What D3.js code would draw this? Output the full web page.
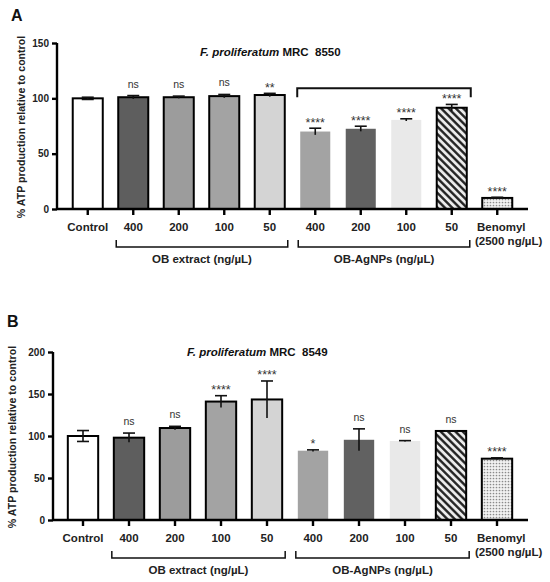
<!DOCTYPE html>
<html>
<head>
<meta charset="utf-8">
<script src="https://cdn.jsdelivr.net/npm/d3@7"></script>
<style>
  body { margin: 0; background: #fff; }
  svg { display: block; font-family: "Liberation Sans", Arial, sans-serif; }
</style>
</head>
<body>
<svg id="chart" width="550" height="582"></svg>
<script>
// bar ids and the label shown under each bar
const barKeys = ['ctrl', 'e400', 'e200', 'e100', 'e50', 'n400', 'n200', 'n100', 'n50', 'ben'];
const barLabels = ['Control', '400', '200', '100', '50', '400', '200', '100', '50', 'Benomyl'];

// panel A : F. proliferatum MRC 8550
const valuesA = [100, 101, 101, 102, 103, 70, 72.5, 80.5, 91.5, 10];
const errorsA = [1, 1.5, 1, 1.5, 1.5, 3, 2.3, 1, 3, 0.6];
const signifA = ['', 'ns', 'ns', 'ns', '**', '****', '****', '****', '****', '****'];
const ticksA = [0, 50, 100, 150];

// panel B : F. proliferatum MRC 8549
const valuesB = [100, 98, 109.5, 141, 143.5, 82.5, 95.5, 94, 106, 73];
const errorsB = [6.5, 5.5, 2, 7, 22, 1, 13, 0.5, 0, 1];
const signifB = ['', 'ns', 'ns', '****', '****', '*', 'ns', 'ns', 'ns', '****'];
const ticksB = [0, 50, 100, 150, 200];

// fill of each bar (outline true = black border)
const barStyles = [
  {fill: '#ffffff', outline: true},
  {fill: '#5e5e5e', outline: true},
  {fill: '#9c9c9c', outline: true},
  {fill: '#a3a3a3', outline: true},
  {fill: '#d4d4d4', outline: true},
  {fill: '#a3a3a3', outline: false},
  {fill: '#616161', outline: false},
  {fill: '#e9e9e9', outline: false},
  {fill: 'url(#hatch)', outline: true},
  {fill: 'url(#dots)', outline: true}
];

const svg = d3.select('#chart');
const defs = svg.append('defs');

let hatch = defs.append('pattern')
  .attr('id', 'hatch')
  .attr('patternUnits', 'userSpaceOnUse')
  .attr('width', 5.2).attr('height', 5.2)
  .attr('patternTransform', 'rotate(-45)');
hatch.append('rect').attr('width', 5.2).attr('height', 5.2).attr('fill', '#ececec');
hatch.append('line')
  .attr('x1', 1.3).attr('x2', 1.3).attr('y1', 0).attr('y2', 5.2)
  .attr('stroke', '#1a1a1a').attr('stroke-width', 2.3);

let dots = defs.append('pattern')
  .attr('id', 'dots')
  .attr('patternUnits', 'userSpaceOnUse')
  .attr('width', 3).attr('height', 3);
dots.append('rect').attr('width', 3).attr('height', 3).attr('fill', '#f2f2f2');
dots.append('circle').attr('cx', 1.5).attr('cy', 1.5).attr('r', 0.85).attr('fill', '#8a8a8a');

/**
 * draws one panel of the figure
 * @param {object} p the panel layout and data
 */
function drawPanel(p) {
  let g = svg.append('g');
  let x = d3.scaleBand()
    .domain(barKeys)
    .range([p.x0, p.x1])
    .paddingInner(0.34)
    .paddingOuter(0.17);
  let y = d3.scaleLinear()
    .domain([0, p.yMax])
    .range([p.yBottom, p.yTop]);
  let axisY = p.yBottom;

  // panel letter
  g.append('text')
    .attr('x', p.letterX).attr('y', p.letterY)
    .attr('font-size', 16).attr('font-weight', 'bold')
    .attr('fill', '#111')
    .text(p.letter);

  // title
  let title = g.append('text')
    .attr('x', p.titleX).attr('y', p.titleY)
    .attr('font-size', 11.5).attr('font-weight', 'bold')
    .attr('fill', '#111');
  title.append('tspan').attr('font-style', 'italic').text('F. proliferatum');
  title.append('tspan').text(' MRC\u00a0 ' + p.strain);

  // y axis label
  g.append('text')
    .attr('transform', 'translate(' + p.yLabelX + ',' + ((p.yTop + p.yBottom) / 2 + 1) + ') rotate(-90)')
    .attr('text-anchor', 'middle')
    .attr('dominant-baseline', 'middle')
    .attr('font-size', 10.6).attr('font-weight', 'bold')
    .attr('fill', '#222')
    .text('% ATP production relative to control');

  // bars
  g.selectAll('rect.bar')
    .data(p.values)
    .enter()
    .append('rect')
    .attr('class', 'bar')
    .attr('x', function(d, i) { return x(barKeys[i]); })
    .attr('y', function(d) { return y(d); })
    .attr('width', x.bandwidth())
    .attr('height', function(d) { return y(0) - y(d); })
    .attr('fill', function(d, i) { return barStyles[i].fill; })
    .attr('stroke', function(d, i) { return barStyles[i].outline ? '#000' : 'none'; })
    .attr('stroke-width', 2);

  // error bars
  let err = g.selectAll('g.err')
    .data(p.values)
    .enter()
    .append('g')
    .attr('class', 'err')
    .attr('transform', function(d, i) {
      return 'translate(' + (x(barKeys[i]) + x.bandwidth() / 2) + ',0)';
    });
  err.append('line')
    .attr('y1', function(d, i) { return y(d - p.errors[i]); })
    .attr('y2', function(d, i) { return y(d + p.errors[i]); })
    .attr('stroke', '#111').attr('stroke-width', 1.6);
  err.append('line')
    .attr('x1', -6).attr('x2', 6)
    .attr('y1', function(d, i) { return y(d + p.errors[i]); })
    .attr('y2', function(d, i) { return y(d + p.errors[i]); })
    .attr('stroke', '#111').attr('stroke-width', 1.6);
  err.append('line')
    .attr('x1', -6).attr('x2', 6)
    .attr('y1', function(d, i) { return y(d - p.errors[i]); })
    .attr('y2', function(d, i) { return y(d - p.errors[i]); })
    .attr('stroke', '#111').attr('stroke-width', 1.6)
    .attr('opacity', function(d, i) { return barStyles[i].fill == '#ffffff' ? 1 : 0; });

  // significance marks
  g.selectAll('text.sig')
    .data(p.signif)
    .enter()
    .append('text')
    .attr('class', 'sig')
    .attr('x', function(d, i) { return x(barKeys[i]) + x.bandwidth() / 2; })
    .attr('y', function(d, i) {
      let top = y(p.values[i] + p.errors[i]);
      return d == 'ns' ? top - 8 : top - 1.5;
    })
    .attr('text-anchor', 'middle')
    .attr('font-size', function(d) { return d == 'ns' ? 10.5 : 12.5; })
    .attr('fill', '#333')
    .text(function(d) { return d; });

  // axes
  let yAxis = d3.axisLeft(y).tickValues(p.ticks).tickSize(5).tickPadding(3);
  let ya = g.append('g')
    .attr('transform', 'translate(' + p.axisX + ',0)')
    .call(yAxis);
  ya.select('.domain').attr('d', 'M0,' + p.yTop + 'V' + axisY);
  ya.selectAll('.tick text').attr('font-size', 10).attr('font-weight', 'bold')
    .attr('fill', '#222')
    .attr('font-family', '"Liberation Sans", Arial, sans-serif');

  let xAxis = d3.axisBottom(x).tickSize(6).tickFormat('');
  let xa = g.append('g')
    .attr('transform', 'translate(0,' + axisY + ')')
    .call(xAxis);
  xa.select('.domain').attr('d', 'M' + p.axisX + ',0H528');
  g.selectAll('.domain, .tick line').attr('stroke', '#000').attr('stroke-width', 2.4);

  // x labels
  g.selectAll('text.xl')
    .data(barLabels)
    .enter()
    .append('text')
    .attr('class', 'xl')
    .attr('x', function(d, i) {
      return i == barLabels.length - 1 ? 477 : x(barKeys[i]) + x.bandwidth() / 2;
    })
    .attr('y', axisY + 22)
    .attr('text-anchor', function(d, i) {
      return i == barLabels.length - 1 ? 'start' : 'middle';
    })
    .attr('font-size', 11.5).attr('font-weight', 'bold')
    .attr('fill', '#222')
    .text(function(d) { return d; });
  g.append('text')
    .attr('x', 475)
    .attr('y', axisY + 36)
    .attr('font-size', 11.5).attr('font-weight', 'bold')
    .attr('fill', '#222')
    .text('(2500 ng/\u00b5L)');

  // group brackets under the axis
  let groups = [
    {from: 'e400', to: 'e50', label: 'OB extract (ng/\u00b5L)'},
    {from: 'n400', to: 'n50', label: 'OB-AgNPs (ng/\u00b5L)'}
  ];
  groups.forEach(function(grp) {
    let bx0 = x(grp.from) - 2;
    let bx1 = x(grp.to) + x.bandwidth() + 3;
    let by = axisY + 38;
    g.append('path')
      .attr('d', 'M' + bx0 + ',' + (by - 7) + 'V' + by + 'H' + bx1 + 'V' + (by - 7))
      .attr('fill', 'none').attr('stroke', '#111').attr('stroke-width', 1.5);
    g.append('text')
      .attr('x', (bx0 + bx1) / 2)
      .attr('y', by + 16)
      .attr('text-anchor', 'middle')
      .attr('font-size', 11.5).attr('font-weight', 'bold')
      .attr('fill', '#222')
      .text(grp.label);
  });

  // bracket above the nanoparticle bars
  if (p.topBracket) {
    let tx0 = x('n400') - 3;
    let tx1 = x('n50') + x.bandwidth() + 4;
    g.append('path')
      .attr('d', 'M' + tx0 + ',' + y(p.topBracket[1]) + 'V' + y(p.topBracket[0]) +
        'H' + tx1 + 'V' + y(p.topBracket[1]))
      .attr('fill', 'none').attr('stroke', '#111').attr('stroke-width', 2);
  }
}

drawPanel({
  letter: 'A', letterX: 11, letterY: 21,
  strain: '8550', titleX: 200, titleY: 56,
  yLabelX: 22, axisX: 57,
  x0: 65, x1: 520, yTop: 43, yBottom: 209, yMax: 150,
  values: valuesA, errors: errorsA, signif: signifA, ticks: ticksA,
  topBracket: [109, 101]
});

drawPanel({
  letter: 'B', letterX: 7, letterY: 327,
  strain: '8549', titleX: 187, titleY: 356,
  yLabelX: 13, axisX: 53,
  x0: 60, x1: 520, yTop: 352, yBottom: 520, yMax: 200,
  values: valuesB, errors: errorsB, signif: signifB, ticks: ticksB,
  topBracket: null
});
</script>
</body>
</html>
